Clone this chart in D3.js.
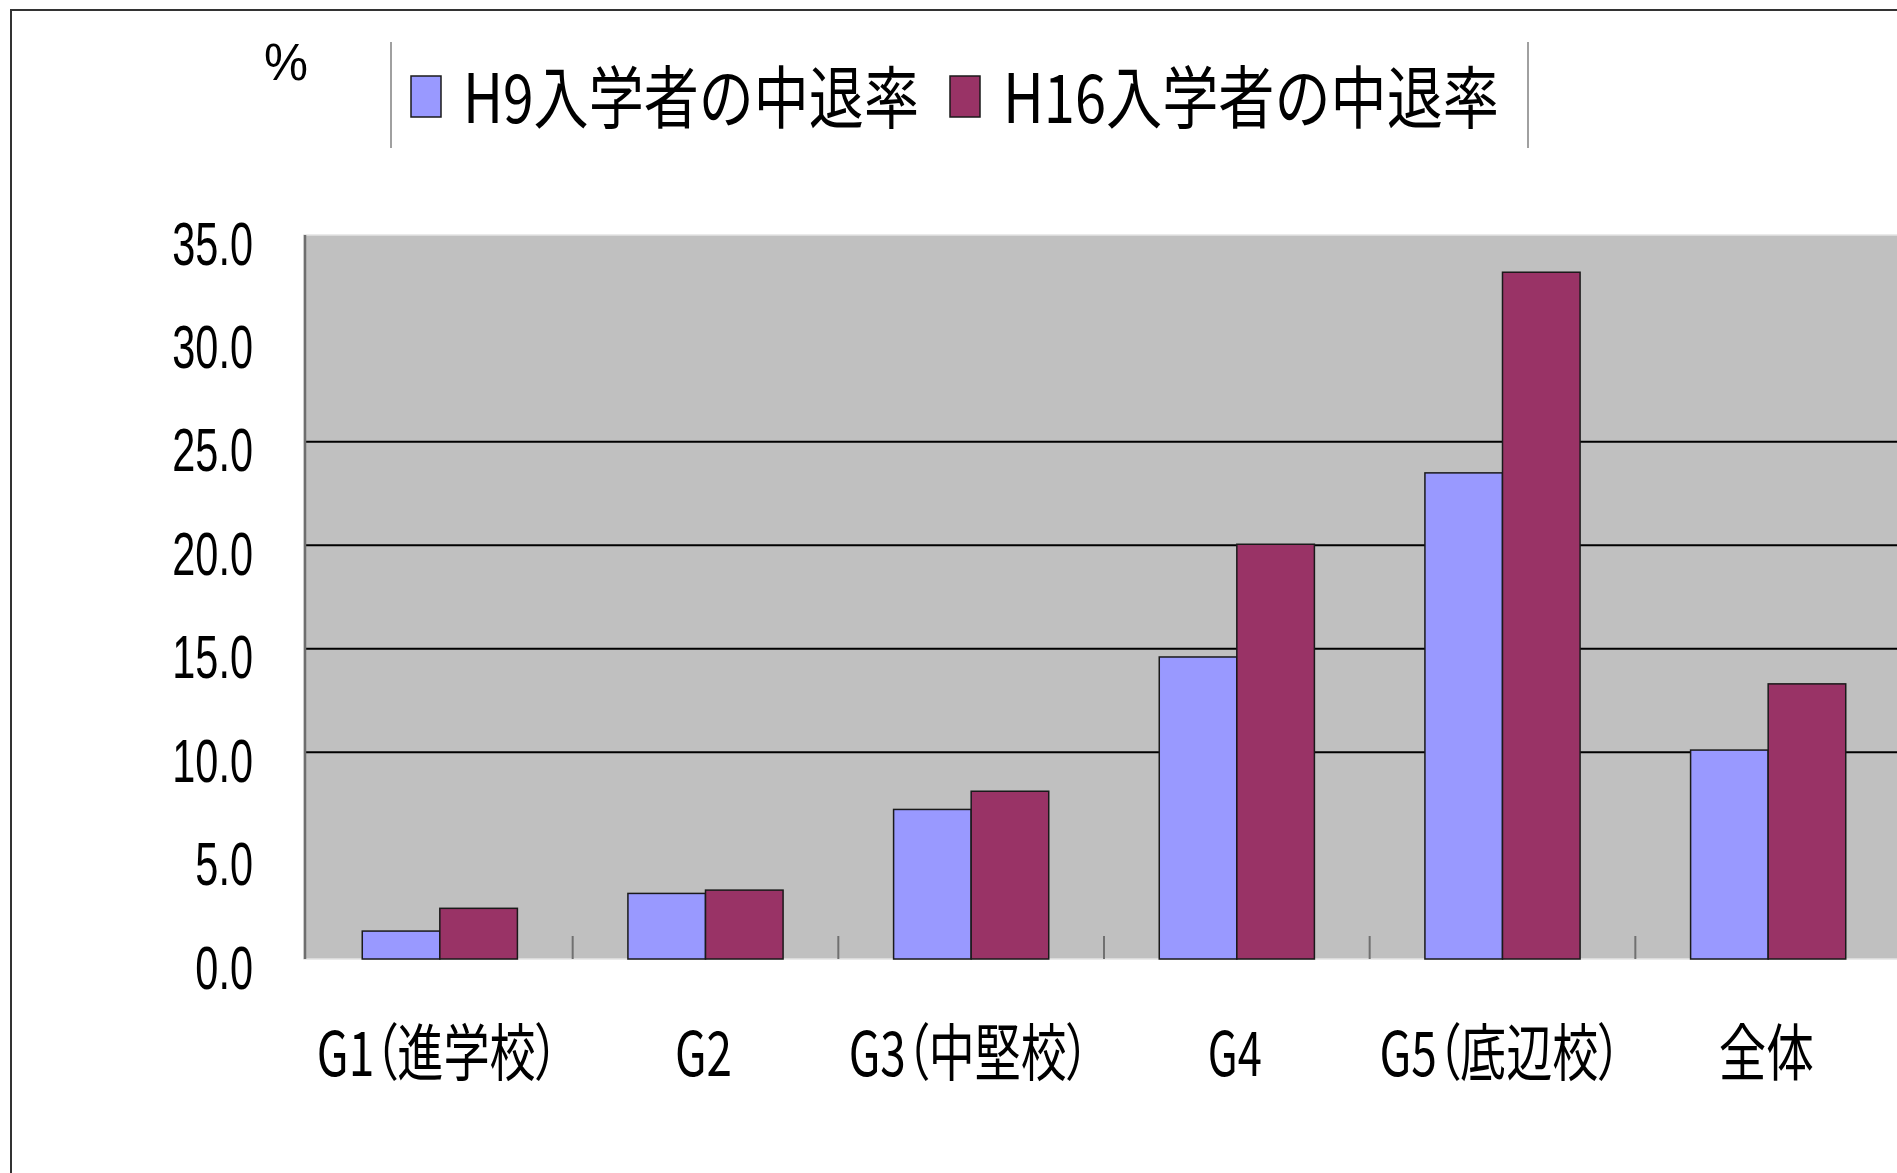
<!DOCTYPE html>
<html>
<head>
<meta charset="utf-8">
<script src="https://cdn.jsdelivr.net/npm/d3@7/dist/d3.min.js"></script>
<style>
  html, body { margin: 0; padding: 0; background: #fff; overflow: hidden; }
  svg { display: block; }
  .xlab { font-feature-settings: "palt"; }
</style>
</head>
<body>
<svg id="chart" width="1897" height="1173"></svg>
<script>
// ---- data ----
const categories = ["G1（進学校）", "G2", "G3（中堅校）", "G4", "G5（底辺校）", "全体"];
const seriesNames = ["H9入学者の中退率", "H16入学者の中退率"];
const h9Values  = [1.35, 3.17, 7.23, 14.6, 23.5, 10.1];
const h16Values = [2.45, 3.33, 8.11, 20.05, 33.2, 13.3];
const yTickValues = [0, 5, 10, 15, 20, 25, 30, 35];
const gridValues = [10, 15, 20, 25];
const unitLabel = "%";

// ---- layout / style ----
const colors = ["#9999FF", "#993366"];
const plot = { left: 304, right: 1898, top: 235, bottom: 959 };
const xLabelWidths = [242, 57, 241, 54, 242, 95];
const legendTextWidths = [456, 496];

const svg = d3.select("#chart");

// outer frame
svg.append("rect")
  .attr("x", 11).attr("y", 10).attr("width", 1960).attr("height", 1300)
  .attr("fill", "#fff").attr("stroke", "#333").attr("stroke-width", 2);

const x0 = d3.scaleBand().domain(categories).range([plot.left, plot.right]).paddingInner(0).paddingOuter(0);
const groupW = x0.bandwidth() * 0.584;
const x1 = d3.scaleBand().domain(seriesNames)
  .range([(x0.bandwidth() - groupW) / 2 + 3, (x0.bandwidth() + groupW) / 2 + 3]);
const y = d3.scaleLinear().domain([0, 35]).range([plot.bottom, plot.top]);

// plot background
svg.append("rect")
  .attr("x", plot.left).attr("y", plot.top)
  .attr("width", plot.right - plot.left).attr("height", plot.bottom - plot.top)
  .attr("fill", "#C0C0C0").attr("stroke", "#e4e4e4").attr("stroke-width", 1.5);

// gridlines
svg.append("g").selectAll("line").data(gridValues).join("line")
  .attr("x1", plot.left).attr("x2", plot.right)
  .attr("y1", d => y(d)).attr("y2", d => y(d))
  .attr("stroke", "#000").attr("stroke-width", 2);

// category ticks (between groups)
svg.append("g").selectAll("line").data(categories.slice(1)).join("line")
  .attr("x1", d => x0(d) + 3).attr("x2", d => x0(d) + 3)
  .attr("y1", plot.bottom - 23).attr("y2", plot.bottom)
  .attr("stroke", "#707070").attr("stroke-width", 2);

// bars
const rows = categories.map((c, i) => ({ cat: c, vals: [h9Values[i], h16Values[i]] }));
const groups = svg.append("g").selectAll("g").data(rows).join("g")
  .attr("transform", d => `translate(${x0(d.cat)},0)`);
groups.selectAll("rect").data(d => d.vals.map((v, j) => ({ s: seriesNames[j], v, j }))).join("rect")
  .attr("x", d => x1(d.s)).attr("width", x1.bandwidth())
  .attr("y", d => y(d.v)).attr("height", d => y(0) - y(d.v))
  .attr("fill", d => colors[d.j])
  .attr("stroke", "#1a1a1a").attr("stroke-width", 1.5);

// left axis line
svg.append("line")
  .attr("x1", plot.left + 1).attr("x2", plot.left + 1)
  .attr("y1", plot.top).attr("y2", plot.bottom)
  .attr("stroke", "#6e6e6e").attr("stroke-width", 2.5);

// y axis labels
const yAxis = d3.axisLeft(y).tickValues(yTickValues).tickFormat(d3.format(".1f")).tickSize(0);
const yg = svg.append("g").attr("transform", `translate(${plot.left},0)`).call(yAxis);
yg.select(".domain").remove();
const sx = 0.68;
yg.selectAll(".tick text")
  .attr("font-family", "'Liberation Sans', Arial, sans-serif")
  .attr("font-size", 61).attr("fill", "#000")
  .attr("text-anchor", "end")
  .attr("x", -51 / sx).attr("dy", 0).attr("y", 29)
  .attr("transform", `scale(${sx},1)`);

// x axis labels (horizontally condensed to the reference widths)
svg.append("g").selectAll("text").data(categories).join("text")
  .attr("class", "xlab")
  .attr("x", 0).attr("y", 0)
  .attr("text-anchor", "middle")
  .attr("font-family", "'Noto Sans CJK JP', sans-serif")
  .attr("font-size", 62).attr("fill", "#000")
  .text(d => d)
  .each(function (d, i) {
    const natural = this.getComputedTextLength();
    const k = xLabelWidths[i] / natural;
    const cx = x0(d) + x0.bandwidth() / 2 + 1;
    d3.select(this).attr("transform", `translate(${cx},1076) scale(${k},1)`);
  });

// unit label
svg.append("text")
  .attr("x", 264).attr("y", 80)
  .attr("font-family", "'Liberation Sans', Arial, sans-serif")
  .attr("font-size", 52).attr("fill", "#000")
  .attr("textLength", 44).attr("lengthAdjust", "spacingAndGlyphs")
  .text(unitLabel);

// legend
const legend = svg.append("g");
[391, 1528].forEach(lx => {
  legend.append("line").attr("x1", lx).attr("x2", lx).attr("y1", 42).attr("y2", 148)
    .attr("stroke", "#808080").attr("stroke-width", 1.5);
});
const legendSwatchX = [411, 950];
const legendTextX = [463, 1003];
seriesNames.forEach((name, i) => {
  legend.append("rect")
    .attr("x", legendSwatchX[i]).attr("y", 76).attr("width", 30).attr("height", 41)
    .attr("fill", colors[i]).attr("stroke", "#1a1a1a").attr("stroke-width", 1.5);
  const t = legend.append("text")
    .attr("x", 0).attr("y", 0)
    .attr("font-family", "'Noto Sans CJK JP', sans-serif")
    .attr("font-size", 68).attr("fill", "#000")
    .text(name);
  const k = legendTextWidths[i] / t.node().getComputedTextLength();
  t.attr("transform", `translate(${legendTextX[i]},123) scale(${k},1)`);
});
</script>
</body>
</html>
